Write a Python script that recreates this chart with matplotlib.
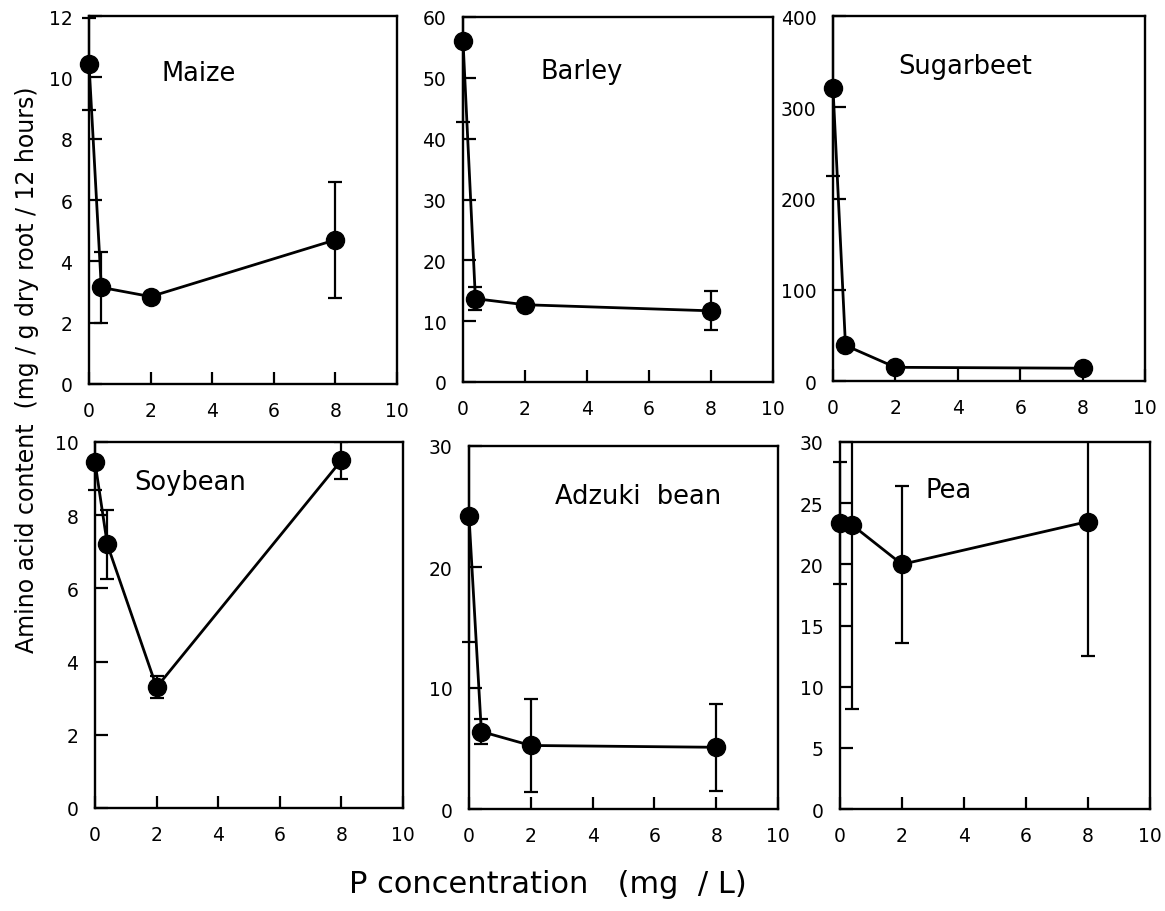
import numpy as np
import matplotlib
matplotlib.use("Agg")
import matplotlib.pyplot as plt
from matplotlib.patches import Rectangle

# P concentration in the nutrient solution (mg / L)
P_CONC = [0, 0.4, 2, 8]

CROPS = ["Maize", "Barley", "Sugarbeet", "Soybean", "Adzuki  bean", "Pea"]

# amino acid content (mg / g dry root / 12 hours) and error bar half-widths
maize = [10.45, 3.15, 2.85, 4.7]
maize_err = [1.5, 1.15, 0.15, 1.9]
barley = [56.1, 13.7, 12.7, 11.7]
barley_err = [13.4, 1.9, 0.5, 3.2]
sugarbeet = [321, 39, 15, 14]
sugarbeet_err = [96, 3, 2, 2]
soybean = [9.45, 7.2, 3.3, 9.5]
soybean_err = [0.75, 0.95, 0.3, 0.5]
adzuki = [24.2, 6.4, 5.25, 5.1]
adzuki_err = [10.4, 1.0, 3.85, 3.6]
pea = [23.4, 23.2, 20.0, 23.5]
pea_err = [5.0, 15.0, 6.4, 11.0]

VALUES = [maize, barley, sugarbeet, soybean, adzuki, pea]
ERRORS = [maize_err, barley_err, sugarbeet_err, soybean_err, adzuki_err, pea_err]

Y_MAX = [12, 60, 400, 10, 30, 30]
Y_STEP = [2, 10, 100, 2, 10, 5]
X_TICKS = [0, 2, 4, 6, 8, 10]

# panel boxes in pixels (left, right, top, bottom) of a 1165 x 912 canvas
W, H = 1165, 912
BOXES = [
    (89, 397, 17, 385),
    (463, 773, 18, 383),
    (833, 1145, 17, 382),
    (95, 403, 443, 809),
    (469, 778, 447, 810),
    (840, 1150, 443, 810),
]
# label anchor (axes coords, baseline)
LABEL_POS = [(0.357, 0.826), (0.384, 0.833), (0.423, 0.844),
             (0.308, 0.872), (0.547, 0.843), (0.352, 0.850)]

fig = plt.figure(figsize=(W / 100, H / 100), dpi=100)

for i, name in enumerate(CROPS):
    l, r, t, b = BOXES[i]
    ax = fig.add_axes([l / W, 1 - b / H, (r - l) / W, (b - t) / H])

    cont = ax.errorbar(P_CONC, VALUES[i], yerr=ERRORS[i], fmt='-o', color='black',
                       lw=2.0, ms=13, capsize=5, elinewidth=1.6, capthick=1.6)

    # let marks at x = 0 stick out to the left, but cut error bars at the top spine
    clip = Rectangle((-0.1, -0.1), 1.2, 1.1, transform=ax.transAxes)
    artists = [cont[0]] + list(cont[1]) + list(cont[2])
    for a in artists:
        a.set_clip_on(True)
        a.set_clip_path(clip)

    ax.set_xlim(0, 10)
    ax.set_ylim(0, Y_MAX[i])
    ax.set_xticks(X_TICKS)
    ax.set_yticks(np.arange(0, Y_MAX[i] + 1, Y_STEP[i]))
    ax.tick_params(direction='in', length=9, width=1.6, labelsize=13.5, pad=12,
                   top=False, right=False)
    for s in ax.spines.values():
        s.set_linewidth(1.7)

    ax.text(LABEL_POS[i][0], LABEL_POS[i][1], name, transform=ax.transAxes,
            ha='center', va='baseline', fontsize=18.5)

fig.text(548 / W, 1 - 893 / H, "P concentration   (mg  / L)",
         ha='center', va='baseline', fontsize=22)
fig.text(27 / W, 1 - 370 / H, "Amino acid content  (mg / g dry root / 12 hours)",
         ha='center', va='center', rotation=90, fontsize=17)

plt.savefig("out.png", dpi=100)
plt.close()
